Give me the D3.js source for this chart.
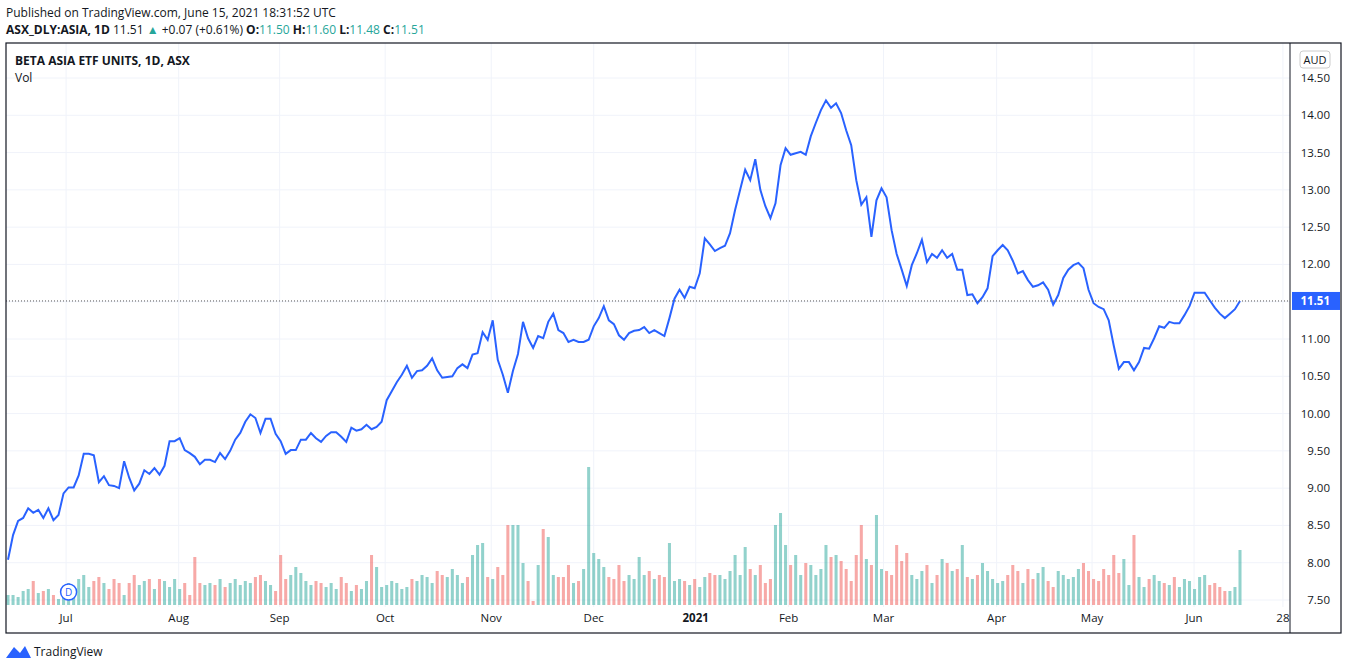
<!DOCTYPE html>
<html><head><meta charset="utf-8">
<script src="https://cdn.jsdelivr.net/npm/d3@7"></script>
<style>body{margin:0;background:#fff;font-family:"Open Sans",Roboto,sans-serif;}</style>
</head><body><svg id="c" width="1348" height="670"></svg>
<script>
// daily closes, Jun 2020 - Jun 2021
var closes = [8.04,8.37,8.56,8.60,8.73,8.67,8.71,8.60,8.73,8.57,
8.64,8.93,9.01,9.01,9.17,9.46,9.46,9.44,9.08,9.16,
9.04,9.03,9.00,9.36,9.14,8.97,9.06,9.24,9.19,9.27,
9.18,9.30,9.63,9.63,9.67,9.51,9.47,9.42,9.32,9.38,
9.38,9.35,9.47,9.39,9.50,9.65,9.74,9.89,9.99,9.94,
9.74,9.93,9.93,9.73,9.63,9.46,9.51,9.51,9.65,9.65,
9.74,9.67,9.62,9.70,9.75,9.75,9.69,9.62,9.81,9.77,
9.79,9.85,9.79,9.82,9.89,10.18,10.30,10.42,10.52,10.64,
10.48,10.57,10.58,10.64,10.74,10.58,10.48,10.49,10.50,10.61,
10.66,10.61,10.79,10.81,11.09,10.99,11.25,10.72,10.52,10.28,
10.57,10.80,11.23,11.01,10.88,11.04,11.01,11.23,11.34,11.12,
11.08,10.96,10.99,10.96,10.96,10.99,11.17,11.28,11.44,11.25,
11.20,11.05,10.99,11.08,11.11,11.12,11.16,11.08,11.12,11.08,
11.04,11.28,11.54,11.66,11.55,11.70,11.68,11.88,12.35,12.27,
12.18,12.22,12.25,12.42,12.73,13.00,13.27,13.13,13.41,13.00,
12.78,12.62,12.82,13.33,13.56,13.47,13.49,13.51,13.47,13.72,
13.90,14.07,14.20,14.10,14.16,14.03,13.80,13.60,13.13,12.80,
12.90,12.37,12.86,13.02,12.90,12.46,12.14,11.93,11.71,11.99,
12.15,12.33,12.03,12.14,12.09,12.19,12.09,12.14,11.93,11.93,
11.59,11.60,11.48,11.56,11.68,12.11,12.19,12.26,12.19,12.05,
11.88,11.91,11.79,11.70,11.72,11.76,11.66,11.46,11.59,11.82,
11.93,11.99,12.02,11.95,11.66,11.48,11.43,11.40,11.25,10.91,
10.60,10.69,10.69,10.58,10.69,10.88,10.87,11.01,11.17,11.15,
11.23,11.21,11.21,11.32,11.44,11.62,11.62,11.62,11.52,11.42,
11.34,11.28,11.34,11.40,11.51];

var volumes = [10,10,8,14,16,24,12,14,16,10,
6,8,22,14,26,30,18,24,28,22,
16,26,22,10,22,30,20,24,26,16,
26,24,18,26,16,22,10,48,22,20,
22,20,26,18,22,26,20,24,22,28,
30,24,20,14,50,26,30,38,32,24,
20,24,22,18,22,16,28,22,14,20,
16,24,50,38,18,20,24,22,16,18,
26,24,30,28,22,34,30,28,36,30,
22,28,50,60,62,28,26,38,30,80,
80,80,42,24,4,40,76,68,30,28,
28,40,22,24,36,138,52,46,38,28,
26,40,24,30,26,48,30,34,26,30,
28,62,24,26,24,20,26,18,28,32,
30,30,26,34,50,30,58,36,30,40,
22,26,80,92,60,40,50,30,42,40,
30,36,60,48,50,44,36,24,50,80,
46,40,90,36,34,30,60,44,52,30,
26,34,40,22,30,46,42,34,36,60,
28,26,30,42,34,26,22,24,30,40,
34,22,36,26,32,38,24,18,34,30,
26,28,36,42,34,26,24,36,30,50,
32,46,20,70,28,18,26,30,24,22,
20,28,18,26,24,16,28,30,20,22,
18,14,14,18,55];

var tickLabels = ["Jul","Aug","Sep","Oct","Nov","Dec","2021","Feb","Mar","Apr","May","Jun","28"];
var tickIdx = [11.5,33.8,53.8,74.7,95.7,116,136.2,154.6,173.4,195.8,214.7,234.9,252.5];
var priceTicks = [7.5,8,8.5,9,9.5,10,10.5,11,11.5,12,12.5,13,13.5,14,14.5];

var svg = d3.select("#c");
var L = 6, R = 1341, T = 43, B = 633, AX = 1290;
var x = d3.scaleLinear().domain([0, closes.length - 1]).range([8, 1240]);
var y = d3.scaleLinear().domain([7.5, 14.5]).range([600, 78]);
var yv = d3.scaleLinear().domain([0, 140]).range([605, 465]);

// grid
svg.selectAll(".hg").data(priceTicks).enter().append("line")
  .attr("x1", L).attr("x2", AX).attr("y1", d => y(d)).attr("y2", d => y(d))
  .attr("stroke", "#f0f3fa");
svg.selectAll(".vg").data(tickIdx).enter().append("line")
  .attr("x1", d => x(d)).attr("x2", d => x(d)).attr("y1", T).attr("y2", 607)
  .attr("stroke", "#f0f3fa");

// volume
var bw = (x(1) - x(0)) * 0.6;
svg.selectAll(".vb").data(volumes).enter().append("rect")
  .attr("x", (d, i) => x(i) - bw / 2).attr("width", bw)
  .attr("y", d => yv(d)).attr("height", d => yv(0) - yv(d))
  .attr("fill", (d, i) => (i === 0 || closes[i] >= closes[i - 1]) ? "rgba(38,166,154,0.5)" : "rgba(239,83,80,0.5)");

// price line
svg.append("path").datum(closes)
  .attr("d", d3.line().x((d, i) => x(i)).y(d => y(d)))
  .attr("fill", "none").attr("stroke", "#2962ff").attr("stroke-width", 2);

var last = closes[closes.length - 1];
svg.append("line").attr("x1", L).attr("x2", AX).attr("y1", y(last)).attr("y2", y(last))
  .attr("stroke", "#555").attr("stroke-dasharray", "1,2");

// frame + axis
svg.append("rect").attr("x", L).attr("y", T).attr("width", R - L).attr("height", B - T)
  .attr("fill", "none").attr("stroke", "#131722").attr("stroke-width", 1.2);
svg.append("line").attr("x1", AX).attr("x2", AX).attr("y1", T).attr("y2", B).attr("stroke", "#131722");

svg.selectAll(".pt").data(priceTicks).enter().append("text")
  .attr("x", 1330).attr("y", d => y(d) + 4).attr("text-anchor", "end")
  .attr("font-size", 11.5).attr("fill", "#131722").text(d => d.toFixed(2));

svg.selectAll(".tt").data(tickIdx).enter().append("text")
  .attr("x", d => x(d)).attr("y", 622).attr("text-anchor", "middle")
  .attr("font-size", 11.5).attr("fill", "#131722")
  .attr("font-weight", (d, i) => tickLabels[i] === "2021" ? "bold" : null)
  .text((d, i) => tickLabels[i]);

svg.append("rect").attr("x", 1292).attr("y", y(last) - 9).attr("width", 48).attr("height", 18)
  .attr("fill", "#2962ff");
svg.append("text").attr("x", 1330).attr("y", y(last) + 4).attr("text-anchor", "end")
  .attr("font-size", 11.5).attr("font-weight", "bold").attr("fill", "#fff").text(last.toFixed(2));

svg.append("rect").attr("x", 1300).attr("y", 51).attr("width", 30).attr("height", 17).attr("rx", 3)
  .attr("fill", "#fff").attr("stroke", "#ccc");
svg.append("text").attr("x", 1315).attr("y", 64).attr("text-anchor", "middle")
  .attr("font-size", 11).attr("fill", "#131722").text("AUD");

// D marker
svg.append("circle").attr("cx", x(12)).attr("cy", 592).attr("r", 8)
  .attr("fill", "#fff").attr("stroke", "#2962ff").attr("stroke-width", 1.5);
svg.append("text").attr("x", x(12)).attr("y", 596).attr("text-anchor", "middle")
  .attr("font-size", 10).attr("fill", "#2962ff").text("D");

// header
svg.append("text").attr("x", 6).attr("y", 17).attr("font-size", 12).attr("fill", "#131722")
  .text("Published on TradingView.com, June 15, 2021 18:31:52 UTC");
var h = svg.append("text").attr("x", 6).attr("y", 34).attr("font-size", 12).attr("fill", "#131722");
h.append("tspan").attr("font-weight", "bold").text("ASX_DLY:ASIA, 1D ");
h.append("tspan").text("11.51 ");
h.append("tspan").attr("fill", "#26a69a").text("▲");
h.append("tspan").text(" +0.07 (+0.61%) ");
[["O:", "11.50"], ["H:", "11.60"], ["L:", "11.48"], ["C:", "11.51"]].forEach(function(p) {
  h.append("tspan").attr("font-weight", "bold").text(p[0]);
  h.append("tspan").attr("fill", "#26a69a").text(p[1] + " ");
});
svg.append("text").attr("x", 15).attr("y", 65).attr("font-size", 12).attr("font-weight", "bold")
  .attr("fill", "#131722").text("BETA ASIA ETF UNITS, 1D, ASX");
svg.append("text").attr("x", 15).attr("y", 82).attr("font-size", 12).attr("fill", "#131722").text("Vol");

// footer logo
svg.append("path").attr("d", "M6,658 L14,647 L20,653 L25,646 L31,658 Z").attr("fill", "#2962ff");
svg.append("text").attr("x", 34).attr("y", 656).attr("font-size", 12).attr("fill", "#131722").text("TradingView");
</script></body></html>
